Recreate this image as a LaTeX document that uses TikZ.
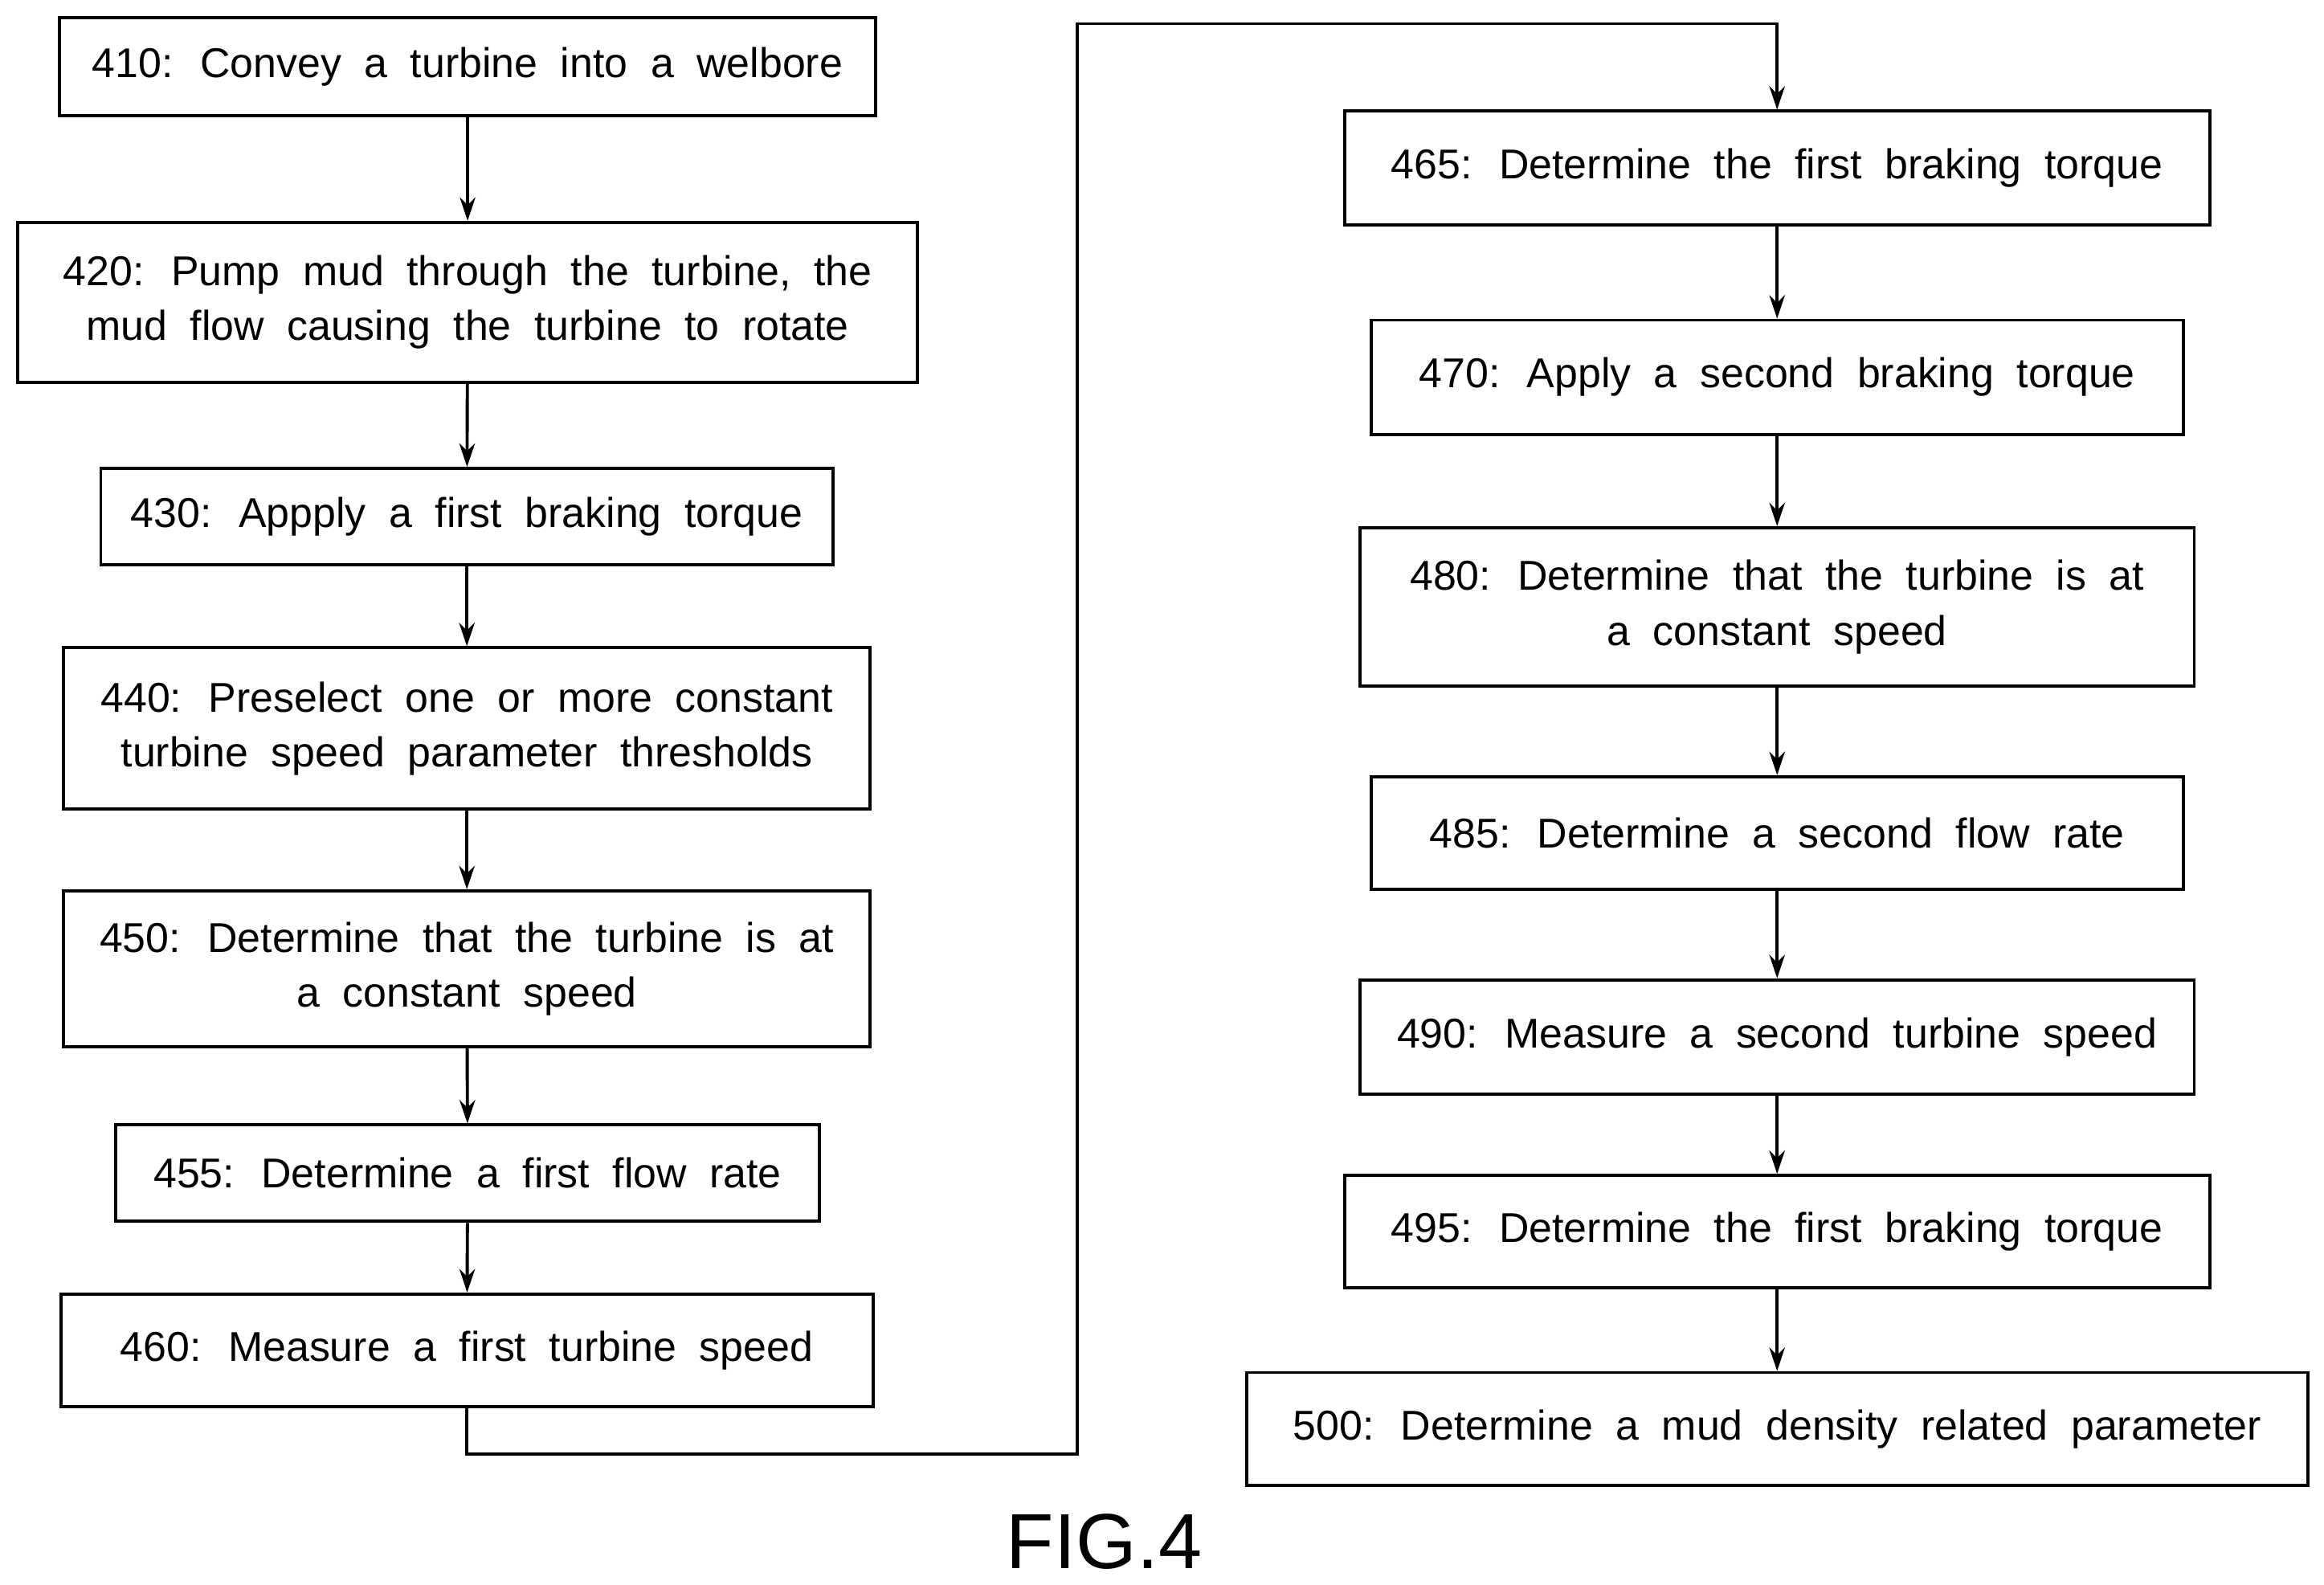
\documentclass[tikz,border=0pt]{standalone}
\usepackage{fontspec}
\setmainfont{Liberation Sans}
\usetikzlibrary{arrows.meta}
\newcommand\mywidesp{\fontsize{16}{21}\selectfont\spaceskip=0.55em plus 0.1em\relax}
\begin{document}
\begin{tikzpicture}[x=0.02cm,y=-0.02cm,
  box/.style={draw,line width=1.2pt,align=center,inner sep=0pt,font=\mywidesp},
  arr/.style={line width=1.2pt,-{Stealth[length=9pt,width=6pt]}}]
\useasboundingbox (0,0) rectangle (1568,1069);
\node[box,minimum width=11.02cm,minimum height=1.32cm] (n410) at (315.5,45) {410: Convey a turbine into a welbore};
\node[box,minimum width=12.14cm,minimum height=2.16cm] (n420) at (315.5,204) {420: Pump mud through the turbine, the\\mud flow causing the turbine to rotate};
\node[box,minimum width=9.88cm,minimum height=1.30cm] (n430) at (315,348.5) {430: Appply a first braking torque};
\node[box,minimum width=10.88cm,minimum height=2.18cm] (n440) at (315,491.5) {440: Preselect one or more constant\\turbine speed parameter thresholds};
\node[box,minimum width=10.88cm,minimum height=2.10cm] (n450) at (315,653.5) {450: Determine that the turbine is at\\a constant speed};
\node[box,minimum width=9.5cm,minimum height=1.30cm] (n455) at (315.5,791.5) {455: Determine a first flow rate};
\node[box,minimum width=10.96cm,minimum height=1.52cm] (n460) at (315,911) {460: Measure a first turbine speed};
\node[box,minimum width=11.68cm,minimum height=1.54cm] (n465) at (1199,113.5) {465: Determine the first braking torque};
\node[box,minimum width=10.96cm,minimum height=1.54cm] (n470) at (1199,254.5) {470: Apply a second braking torque};
\node[box,minimum width=11.26cm,minimum height=2.14cm] (n480) at (1199,409.5) {480: Determine that the turbine is at\\a constant speed};
\node[box,minimum width=10.96cm,minimum height=1.52cm] (n485) at (1199,562) {485: Determine a second flow rate};
\node[box,minimum width=11.26cm,minimum height=1.54cm] (n490) at (1199,699.5) {490: Measure a second turbine speed};
\node[box,minimum width=11.68cm,minimum height=1.52cm] (n495) at (1199,831) {495: Determine the first braking torque};
\node[box,minimum width=14.32cm,minimum height=1.52cm] (n500) at (1199,964) {500: Determine a mud density related parameter};
\node[font=\fontsize{30}{36}\selectfont] (fig) at (745,1040) {FIG.4};
\draw[arr] (n410) -- (n420);
\draw[arr] (n420) -- (n430);
\draw[arr] (n430) -- (n440);
\draw[arr] (n440) -- (n450);
\draw[arr] (n450) -- (n455);
\draw[arr] (n455) -- (n460);
\draw[arr] (n460.south) -- (315,981) -- (727,981) -- (727,16) -- (1199,16) -- (n465.north);
\draw[arr] (n465) -- (n470);
\draw[arr] (n470) -- (n480);
\draw[arr] (n480) -- (n485);
\draw[arr] (n485) -- (n490);
\draw[arr] (n490) -- (n495);
\draw[arr] (n495) -- (n500);
\end{tikzpicture}
\end{document}
